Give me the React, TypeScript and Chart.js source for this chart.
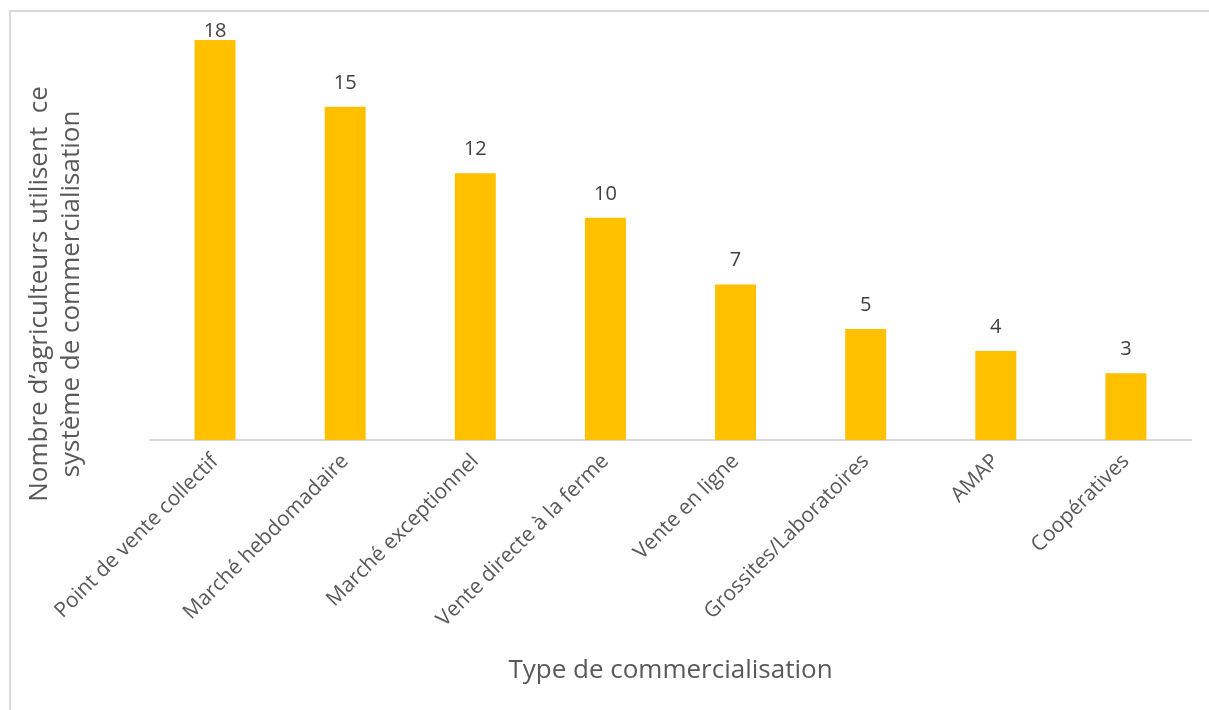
import React, { useEffect, useRef } from "react";
import { Chart, registerables } from "chart.js";

Chart.register(...registerables);

const categories = [
  "Point de vente collectif",
  "Marché hebdomadaire",
  "Marché exceptionnel",
  "Vente directe à la ferme",
  "Vente en ligne",
  "Grossites/Laboratoires",
  "AMAP",
  "Coopératives",
];
const values = [18, 15, 12, 10, 7, 5, 4, 3];
const yTitleLines = ["Nombre d’agriculteurs utilisent  ce", "système de commercialisation"];
const xTitle = "Type de commercialisation";

const FONT = "'Open Sans', 'Noto Sans', sans-serif";

const dataLabelPlugin = {
  id: "dataLabels",
  afterDatasetsDraw(chart: any) {
    const ctx = chart.ctx;
    const meta = chart.getDatasetMeta(0);
    ctx.save();
    ctx.font = `20px ${FONT}`;
    ctx.fillStyle = "#404040";
    ctx.textAlign = "center";
    ctx.textBaseline = "alphabetic";
    meta.data.forEach((bar: any, i: number) => {
      const y = Math.max(bar.y - 18, 37);
      ctx.fillText(String(values[i]), bar.x, y);
    });
    ctx.restore();
  },
};

const yTitlePlugin = {
  id: "yTitle",
  afterDraw(chart: any) {
    const ctx = chart.ctx;
    ctx.save();
    ctx.font = `26px ${FONT}`;
    ctx.fillStyle = "#595959";
    ctx.textAlign = "center";
    ctx.textBaseline = "middle";
    ctx.translate(40, 294);
    ctx.rotate(-Math.PI / 2);
    yTitleLines.forEach((line, i) => {
      ctx.fillText(line, 0, i * 32);
    });
    ctx.restore();
  },
};

export default function App() {
  const ref = useRef<HTMLCanvasElement | null>(null);
  useEffect(() => {
    if (!ref.current) return;
    const chart = new Chart(ref.current, {
      type: "bar",
      data: {
        labels: categories,
        datasets: [
          {
            data: values,
            backgroundColor: "#FFC000",
            barPercentage: 0.63,
            categoryPercentage: 0.5,
          },
        ],
      },
      options: {
        animation: false,
        responsive: false,
        maintainAspectRatio: false,
        layout: { padding: { left: 150, top: 40, right: 18, bottom: 0 } },
        plugins: {
          legend: { display: false },
          tooltip: { enabled: false },
        },
        scales: {
          x: {
            grid: { display: false, drawTicks: false },
            border: { display: true, color: "#d9d9d9", width: 2 },
            ticks: {
              color: "#595959",
              font: { family: FONT, size: 21 },
              maxRotation: 45,
              minRotation: 45,
              padding: 9,
              autoSkip: false,
            },
            title: {
              display: true,
              text: xTitle,
              color: "#595959",
              font: { family: FONT, size: 26 },
              padding: { top: 0, bottom: 24 },
            },
            afterFit: (scale: any) => {
              scale.height = 270;
            },
          },
          y: {
            min: 0,
            max: 18,
            display: false,
          },
        },
      },
      plugins: [dataLabelPlugin, yTitlePlugin],
    });
    return () => chart.destroy();
  }, []);
  return (
    <div style={{ position: "fixed", left: 0, top: 0, width: 1209, height: 710, background: "#fff", overflow: "hidden" }}>
      <canvas ref={ref} width={1209} height={710} style={{ position: "absolute", left: 0, top: 0 }} />
      <div
        style={{
          position: "absolute",
          left: 9,
          top: 10,
          width: 1300,
          height: 800,
          borderLeft: "2px solid #d9d9d9",
          borderTop: "2px solid #d9d9d9",
          pointerEvents: "none",
        }}
      />
    </div>
  );
}
